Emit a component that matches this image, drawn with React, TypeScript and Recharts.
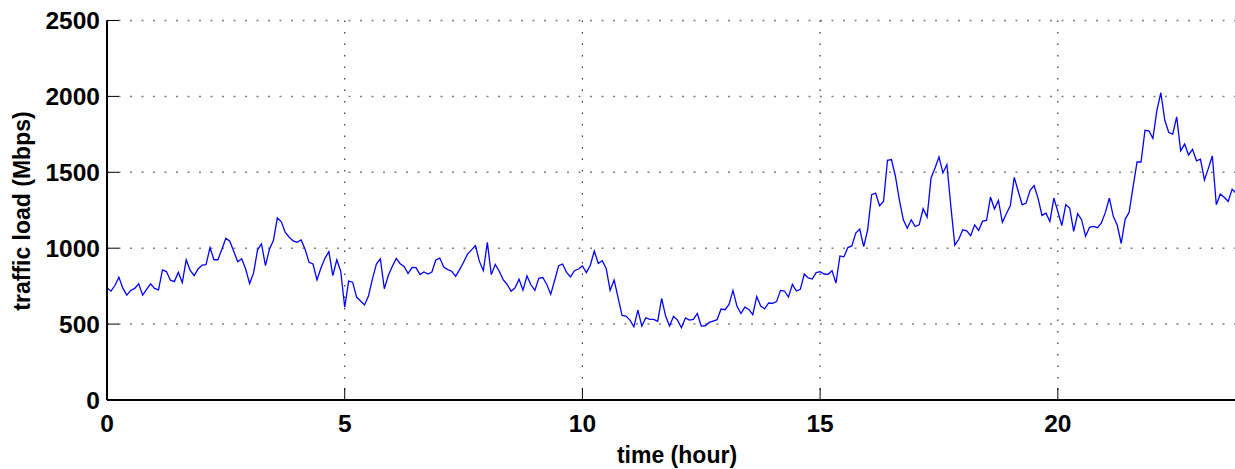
import { LineChart, Line, XAxis, YAxis, CartesianGrid, Label } from "recharts";

// traffic load in Mbps, one sample every 5 minutes
const load00to06 = [
  739, 717, 754, 809, 737, 691, 722, 735, 765, 691, 728, 765,
  735, 726, 857, 846, 789, 780, 841, 774, 924, 854, 820, 863,
  889, 891, 1004, 924, 924, 993, 1065, 1046, 978, 911, 930, 863,
  767, 837, 989, 1028, 885, 993, 1050, 1200, 1174, 1104, 1072, 1048,
  1039, 1054, 993, 907, 896, 791, 870, 933, 978, 820, 924, 848,
  611, 783, 776, 678, 652, 626, 685, 798, 896, 930, 733, 820,
];
const load06to12 = [
  880, 933, 898, 880, 833, 874, 872, 826, 843, 830, 843, 922,
  935, 876, 859, 848, 815, 859, 907, 961, 989, 1017, 913, 852,
  1039, 826, 893, 848, 793, 761, 717, 739, 796, 724, 817, 759,
  722, 802, 807, 761, 696, 789, 885, 896, 841, 811, 852, 863,
  883, 839, 888, 982, 899, 918, 866, 722, 791, 674, 557, 553,
  526, 482, 592, 487, 542, 531, 531, 518, 670, 553, 487, 551,
];
const load12to18 = [
  526, 476, 540, 526, 531, 570, 487, 489, 511, 520, 529, 599,
  595, 630, 722, 619, 570, 612, 597, 562, 681, 619, 601, 639,
  637, 648, 722, 718, 678, 762, 718, 729, 830, 804, 797, 839,
  846, 830, 828, 852, 770, 949, 943, 1004, 1015, 1099, 1126, 1011,
  1121, 1352, 1363, 1280, 1308, 1579, 1584, 1474, 1319, 1187, 1132, 1187,
  1143, 1154, 1260, 1205, 1463, 1529, 1601, 1496, 1551, 1275, 1020, 1059,
];
const load18to24 = [
  1121, 1115, 1082, 1154, 1117, 1178, 1183, 1337, 1258, 1315, 1170, 1227,
  1280, 1467, 1375, 1286, 1297, 1381, 1412, 1330, 1216, 1231, 1176, 1330,
  1242, 1149, 1286, 1264, 1111, 1227, 1188, 1079, 1138, 1144, 1135, 1166,
  1236, 1330, 1210, 1151, 1031, 1192, 1236, 1406, 1568, 1568, 1777, 1773,
  1723, 1908, 2024, 1843, 1762, 1751, 1865, 1642, 1686, 1614, 1651, 1576,
  1587, 1450, 1526, 1607, 1286, 1356, 1336, 1308, 1389, 1360,
];

const xTicks = [0, 5, 10, 15, 20];
const yTicks = [0, 500, 1000, 1500, 2000, 2500];
const SAMPLE_HOURS = 1 / 12;

const data = [...load00to06, ...load06to12, ...load12to18, ...load18to24].map(
  (v, i) => ({ time: i * SAMPLE_HOURS, load: v })
);

const FONT = "'Liberation Sans', Arial, Helvetica, sans-serif";
const TICK_FONT = 24.5;

const BottomTick = (props: any) => {
  const { x, y, payload } = props;
  return (
    <g>
      <line x1={x} y1={y} x2={x} y2={y - 12} stroke="#000" strokeWidth={1} />
      <text x={x} y={y + 32} textAnchor="middle" fontFamily={FONT} fontWeight="bold" fontSize={TICK_FONT} fill="#000">
        {payload.value}
      </text>
    </g>
  );
};

const TopTick = (props: any) => {
  const { x, y } = props;
  return <line x1={x} y1={y} x2={x} y2={y + 12} stroke="#000" strokeWidth={1} />;
};

const LeftTick = (props: any) => {
  const { x, y, payload } = props;
  return (
    <g>
      <line x1={x} y1={y} x2={x + 12} y2={y} stroke="#000" strokeWidth={1} />
      <text x={x - 7} y={y + 8.5} textAnchor="end" fontFamily={FONT} fontWeight="bold" fontSize={TICK_FONT} fill="#000">
        {payload.value}
      </text>
    </g>
  );
};

const App = () => {
  return (
    <div style={{ position: "absolute", left: 0, top: 0, width: 1235, height: 469, overflow: "hidden", background: "#fff" }}>
      <LineChart width={1260} height={469} data={data} margin={{ top: 20.5, right: 12, bottom: 0, left: 0 }}>
        <CartesianGrid horizontal={true} vertical={false} stroke="#808080" strokeWidth={1.5} strokeDasharray="2 9.5" />
        <CartesianGrid horizontal={false} vertical={true} stroke="#333" strokeWidth={1.2} strokeDasharray="1.5 10" />
        <XAxis
          dataKey="time"
          type="number"
          domain={[0, 24]}
          ticks={xTicks}
          interval={0}
          height={69}
          tickSize={0}
          tickMargin={0}
          tickLine={false}
          tick={<BottomTick />}
          axisLine={{ stroke: "#000", strokeWidth: 2 }}
        >
          <Label
            content={() => (
              <text x={677} y={463} textAnchor="middle" fontFamily={FONT} fontWeight="bold" fontSize={23} fill="#000">
                time (hour)
              </text>
            )}
          />
        </XAxis>
        <XAxis
          xAxisId="top"
          orientation="top"
          dataKey="time"
          type="number"
          domain={[0, 24]}
          ticks={xTicks}
          interval={0}
          height={0}
          tickSize={0}
          tickMargin={0}
          tickLine={false}
          tick={<TopTick />}
          axisLine={{ stroke: "#000", strokeWidth: 2 }}
        />
        <YAxis
          type="number"
          domain={[0, 2500]}
          ticks={yTicks}
          interval={0}
          width={107}
          tickSize={0}
          tickMargin={0}
          tickLine={false}
          tick={<LeftTick />}
          axisLine={{ stroke: "#000", strokeWidth: 2 }}
        >
          <Label
            content={() => (
              <text
                x={30}
                y={211}
                transform="rotate(-90 30 211)"
                textAnchor="middle"
                fontFamily={FONT}
                fontWeight="bold"
                fontSize={23}
                fill="#000"
              >
                traffic load (Mbps)
              </text>
            )}
          />
        </YAxis>
        <Line
          type="linear"
          dataKey="load"
          stroke="#0000ff"
          strokeWidth={1.3}
          dot={false}
          activeDot={false}
          isAnimationActive={false}
        />
      </LineChart>
    </div>
  );
};

export default App;
